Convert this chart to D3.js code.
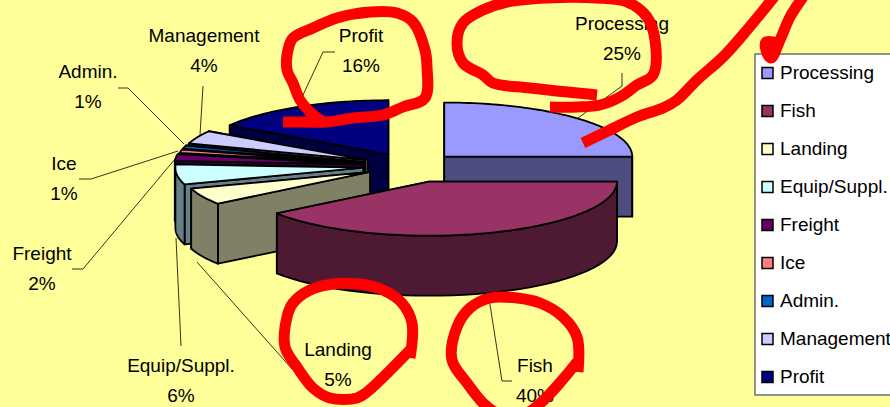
<!DOCTYPE html>
<html lang="en">
<head>
<meta charset="UTF-8" />
<title>Cost breakdown</title>
<script src="https://cdn.jsdelivr.net/npm/d3@7/dist/d3.min.js"></script>
<style>
  html, body { margin: 0; padding: 0; background: #ffff99; overflow: hidden; }
  text { font-family: "Liberation Sans", Arial, sans-serif; font-size: 19px; fill: #000; }
</style>
</head>
<body>
<div id="chart"></div>
<script>
const categories = ['Processing', 'Fish', 'Landing', 'Equip/Suppl.', 'Freight', 'Ice', 'Admin.', 'Management', 'Profit']
const shares = [25, 40, 5, 6, 2, 1, 1, 4, 16]
const topColors = ['#9999ff', '#993366', '#ffffcc', '#ccffff', '#660066', '#ff8080', '#0066cc', '#ccccff', '#000080']
const sideColors = ['#4d4d80', '#4d1933', '#808066', '#668088', '#330033', '#804040', '#003366', '#666680', '#000040']

// how far each slice is pulled out of the pie
const explodes = [47, 58, 46, 48, 49, 48, 48, 48, 47]

// back of the pie first, front last
const paintOrder = [8, 7, 6, 5, 4, 3, 2, 0, 1]

// label text centre and the two baselines
const labelX = [622, 535, 338, 181, 42, 64, 88, 204, 361]
const labelY = [30, 372, 356, 372, 260, 170, 78, 42, 42]
const leaders = [
    [[622, 73], [622, 86], [578, 118]],
    [[512, 381], [502, 381], [488, 292]],
    [[292, 369], [197, 262]],
    [[181, 346], [176, 238]],
    [[72, 269], [83, 269], [175, 159]],
    [[79, 179], [91, 179], [178, 151]],
    [[118, 88], [128, 88], [184, 144]],
    [[203, 86], [200, 135]],
    [[335, 52], [323, 52], [296, 110]],
]

// the red marker scribbles on top of the chart
const scribbles = [
    [[283, 122], [303, 122], [327, 122], [353, 118], [383, 115], [403, 107], [425, 98], [427, 67], [425, 50], [413, 22], [397, 13], [370, 12], [337, 18], [313, 28], [293, 38], [288, 50], [287, 70], [293, 83], [300, 100], [310, 112], [323, 122]],
    [[550, 107], [577, 107], [600, 105], [620, 97], [637, 85], [653, 75], [655, 40], [647, 17], [627, 2], [597, -2], [547, -2], [507, 2], [483, 10], [463, 23], [457, 43], [463, 63], [483, 75], [493, 83], [530, 88], [597, 95]],
    [[583, 143], [610, 130], [637, 117], [663, 108], [677, 100], [697, 80], [723, 57], [747, 30], [778, -8]],
    [[803, -3], [790, 17], [780, 40], [771, 58], [766, 50], [766, 42], [778, 43]],
    [[410, 358], [412, 323], [402, 303], [383, 290], [360, 284], [333, 284], [310, 290], [293, 303], [287, 317], [285, 347], [297, 367], [313, 388], [330, 398], [357, 398], [367, 392], [410, 350]],
    [[578, 372], [577, 337], [563, 317], [540, 303], [517, 298], [490, 298], [470, 308], [457, 327], [452, 360], [467, 383], [483, 403], [497, 413], [527, 413], [577, 362]],
]

const width = 890
const height = 407
const cx = 411
const cy = 166
const rx = 188
const ry = 54
const depth = 60
const squash = 0.285

const svg = d3.select('#chart').append('svg').attr('width', width).attr('height', height).style('display', 'block')
svg.append('rect').attr('width', width).attr('height', height).attr('fill', '#ffff99')

const arcs = d3.pie().sort(null).value((d) => d)(shares)
const line = d3.line()

const drawPoly = (pts, fill) => {
    svg.append('path')
        .attr('d', line(pts) + 'Z')
        .attr('fill', fill)
        .attr('stroke', '#000')
        .attr('stroke-width', 1.8)
        .attr('stroke-linejoin', 'round')
}

paintOrder.forEach((i) => {
    const a = arcs[i]
    const mid = (a.startAngle + a.endAngle) / 2
    const ax = cx + explodes[i] * Math.sin(mid)
    const ay = cy - explodes[i] * squash * Math.cos(mid)
    const rim = (t) => [ax + rx * Math.sin(t), ay - ry * Math.cos(t)]
    const down = (p) => [p[0], p[1] + depth]
    const wall = (t) => [[ax, ay], rim(t), down(rim(t)), [ax, ay + depth]]

    // side walls, the one facing away goes first
    const walls = mid < Math.PI ? [a.startAngle, a.endAngle] : [a.endAngle, a.startAngle]
    walls.forEach((t) => drawPoly(wall(t), sideColors[i]))

    // outer wall, only the part that faces the viewer
    const from = Math.max(a.startAngle, Math.PI / 2)
    const to = Math.min(a.endAngle, (3 * Math.PI) / 2)
    if (from < to) {
        const ts = d3.range(0, 41).map((k) => from + ((to - from) * k) / 40)
        const upper = ts.map(rim)
        drawPoly(upper.concat(upper.map(down).reverse()), sideColors[i])
    }

    // top face
    const ts = d3.range(0, 61).map((k) => a.startAngle + ((a.endAngle - a.startAngle) * k) / 60)
    drawPoly([[ax, ay]].concat(ts.map(rim)), topColors[i])
})

// leader lines
leaders.forEach((pts) => {
    svg.append('path').attr('d', line(pts)).attr('fill', 'none').attr('stroke', '#000').attr('stroke-width', 0.8)
})

// data labels
categories.forEach((c, i) => {
    svg.append('text').attr('x', labelX[i]).attr('y', labelY[i]).attr('text-anchor', 'middle').text(c)
    svg.append('text').attr('x', labelX[i]).attr('y', labelY[i] + 30).attr('text-anchor', 'middle').text(shares[i] + '%')
})

// legend
const legendY = d3.scalePoint().domain(categories).range([73, 377])
svg.append('rect')
    .attr('x', 755)
    .attr('y', 54)
    .attr('width', 140)
    .attr('height', 341)
    .attr('fill', '#fff')
    .attr('stroke', '#707070')
    .attr('stroke-width', 1.5)
const legendRow = svg.selectAll('.legend-row').data(categories).enter().append('g').attr('class', 'legend-row')
legendRow
    .append('rect')
    .attr('x', 762)
    .attr('y', (d) => legendY(d) - 5.5)
    .attr('width', 11)
    .attr('height', 11)
    .attr('fill', (d, i) => topColors[i])
    .attr('stroke', '#000')
    .attr('stroke-width', 1.5)
legendRow
    .append('text')
    .attr('x', 780)
    .attr('y', (d) => legendY(d) + 6)
    .text((d) => d)

// red marker on top of everything
scribbles.forEach((pts) => {
    svg.append('path')
        .attr('d', line.curve(d3.curveCatmullRom)(pts))
        .attr('fill', 'none')
        .attr('stroke', '#ff0000')
        .attr('stroke-width', 11)
        .attr('stroke-linejoin', 'round')
})
</script>
</body>
</html>
